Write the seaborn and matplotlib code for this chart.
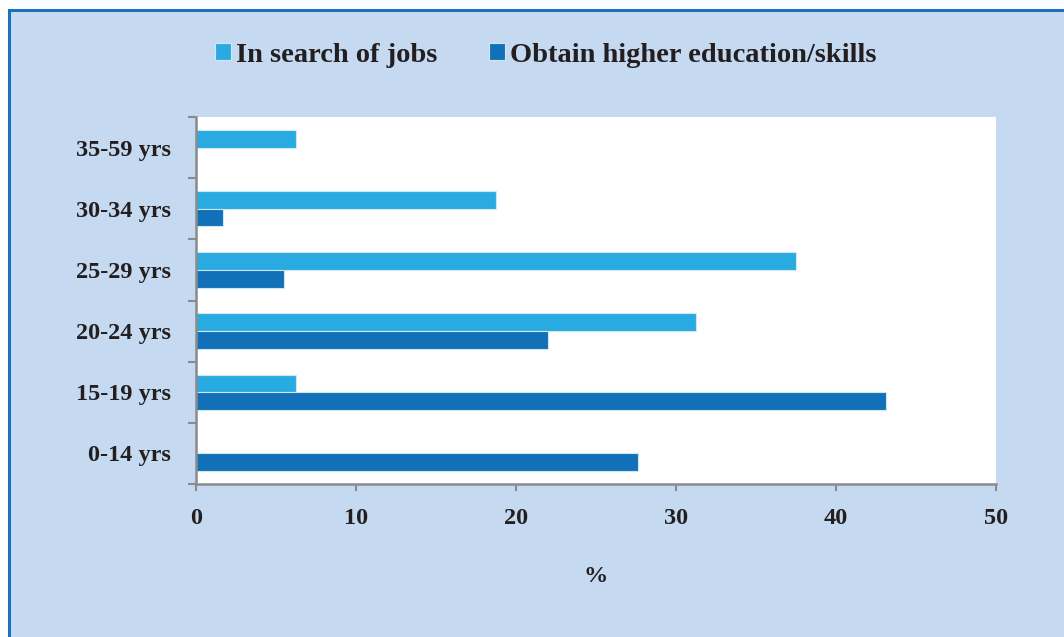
import matplotlib
matplotlib.use("Agg")
import matplotlib.pyplot as plt
from matplotlib.patches import Rectangle
import pandas as pd
import seaborn as sns

# Age groups, top to bottom
age_groups = ["35-59 yrs", "30-34 yrs", "25-29 yrs", "20-24 yrs", "15-19 yrs", "0-14 yrs"]
reasons = ["In search of jobs", "Obtain higher education/skills"]
jobs_pct = [6.25, 18.75, 37.5, 31.25, 6.25, 0.0]
education_pct = [0.0, 1.7, 5.5, 22.0, 43.1, 27.6]
x_ticks = [0, 10, 20, 30, 40, 50]

colors = {"In search of jobs": "#29abe2", "Obtain higher education/skills": "#1170b7"}
panel_bg = "#c5daf0"
frame_blue = "#1c70be"
text_color = "#231f20"
axis_gray = "#8a8a8c"

df = pd.DataFrame({
    "age": age_groups * 2,
    "reason": [reasons[0]] * len(age_groups) + [reasons[1]] * len(age_groups),
    "pct": jobs_pct + education_pct,
})

sns.set_style("white")
plt.rcParams["font.family"] = ["Liberation Serif", "DejaVu Serif"]
plt.rcParams["font.weight"] = "bold"

W, H = 1064, 637
fig = plt.figure(figsize=(W / 100, H / 100), dpi=100)
fig.patch.set_facecolor("white")

# Light-blue panel with a blue rule along the left and top edges
fig.patches.append(Rectangle((9 / W, -0.05), 1.2, 1 - 10 / H + 0.05,
                             transform=fig.transFigure, facecolor=panel_bg,
                             edgecolor=frame_blue, linewidth=2.2, zorder=-10))

ax = fig.add_axes([196 / W, 1 - 484 / H, 800 / W, 367 / H])
ax.set_zorder(5)
ax.set_facecolor("white")

sns.barplot(data=df, y="age", x="pct", hue="reason", order=age_groups,
            hue_order=reasons, palette=colors, saturation=1, orient="h",
            width=0.575, edgecolor="#cfe6f5", linewidth=0.8, ax=ax, legend=True)

ax.set_xlim(0, 50)
ax.set_ylim(len(age_groups) - 0.5, -0.5)
ax.set_xticks(x_ticks)
ax.set_xticklabels([str(v) for v in x_ticks], fontsize=17.5, fontweight="bold",
                   color=text_color)
ax.set_yticks(range(len(age_groups)))
ax.set_yticklabels(age_groups, fontsize=17.5, fontweight="bold", color=text_color)
ax.set_yticks([i - 0.5 for i in range(len(age_groups) + 1)], minor=True)

ax.tick_params(axis="y", which="major", left=True, length=0, pad=18)
ax.tick_params(axis="y", which="minor", left=True, length=6, width=1.5,
               color=axis_gray, direction="out")
ax.tick_params(axis="x", which="major", bottom=True, length=5, width=1.5,
               color=axis_gray, direction="out", pad=12)

for side in ["top", "right"]:
    ax.spines[side].set_visible(False)
for side in ["left", "bottom"]:
    ax.spines[side].set_color(axis_gray)
    ax.spines[side].set_linewidth(1.8)

ax.set_ylabel("")
ax.set_xlabel("%", fontsize=17.5, fontweight="bold", color=text_color, labelpad=27)

handles, labels = ax.get_legend_handles_labels()
ax.legend(handles, labels, loc="center", bbox_to_anchor=(546 / W, 1 - 55 / H),
          bbox_transform=fig.transFigure, ncol=2, frameon=False,
          prop={"family": ["Liberation Serif"], "weight": "bold", "size": 20.5},
          handlelength=0.55, handleheight=0.55, handletextpad=0.2,
          columnspacing=1.8, labelcolor=text_color)

fig.savefig("out.png", dpi=100)
